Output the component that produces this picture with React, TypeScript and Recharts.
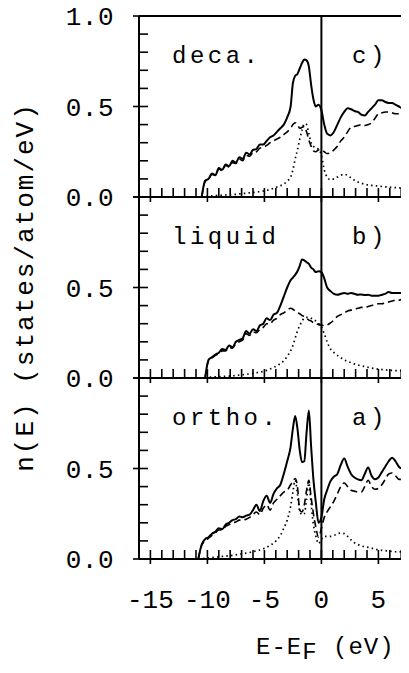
import { LineChart, Line, XAxis, YAxis, ReferenceLine } from 'recharts'

// energy grid (eV relative to E_F), shared by all three panels
const energies = [
  -10.8, -10.5, -10.2, -9.9, -9.6, -9.3, -9.0, -8.7, -8.4, -8.1,
  -7.8, -7.5, -7.2, -6.9, -6.6, -6.3, -6.0, -5.7, -5.4, -5.1,
  -4.8, -4.5, -4.2, -3.9, -3.6, -3.3, -3.0, -2.7, -2.5, -2.3,
  -2.1, -1.9, -1.7, -1.5, -1.3, -1.1, -0.9, -0.7, -0.5, -0.25,
  0, 0.25, 0.5, 0.8, 1.1, 1.4, 1.7, 2.0, 2.3, 2.6,
  2.9, 3.2, 3.5, 3.8, 4.1, 4.4, 4.7, 5.0, 5.3, 5.6,
  5.9, 6.2, 6.5, 6.8, 7.1, 7.4, 7.7, 8.0,
]

// c) decagonal
const decaTotal = [
  null, 0, 0.09, 0.10, 0.13, 0.12, 0.16, 0.15, 0.18, 0.17,
  0.20, 0.19, 0.22, 0.21, 0.245, 0.235, 0.26, 0.265, 0.29, 0.29,
  0.31, 0.33, 0.34, 0.36, 0.38, 0.40, 0.44, 0.50, 0.63, 0.67,
  0.68, 0.71, 0.74, 0.76, 0.755, 0.72, 0.62, 0.54, 0.50, 0.51,
  0.48, 0.40, 0.35, 0.34, 0.36, 0.40, 0.44, 0.47, 0.49, 0.485,
  0.475, 0.47, 0.455, 0.45, 0.47, 0.49, 0.51, 0.535, 0.535, 0.525,
  0.52, 0.52, 0.51, 0.50, 0.49, 0.50, 0.51, 0.52,
]
const decaDashed = [
  null, 0, 0.085, 0.10, 0.125, 0.12, 0.155, 0.145, 0.175, 0.165,
  0.19, 0.185, 0.21, 0.20, 0.23, 0.225, 0.245, 0.25, 0.27, 0.275,
  0.285, 0.30, 0.31, 0.32, 0.33, 0.345, 0.36, 0.38, 0.40, 0.41,
  0.40, 0.38, 0.385, 0.39, 0.36, 0.315, 0.28, 0.255, 0.25, 0.26,
  0.26, 0.25, 0.24, 0.245, 0.26, 0.28, 0.31, 0.33, 0.36, 0.385,
  0.39, 0.395, 0.40, 0.395, 0.40, 0.41, 0.435, 0.46, 0.465, 0.47,
  0.47, 0.465, 0.46, 0.46, 0.46, 0.47, 0.475, 0.48,
]
const decaDotted = [
  null, 0, 0.003, 0.005, 0.006, 0.008, 0.009, 0.010, 0.011, 0.012,
  0.014, 0.015, 0.017, 0.019, 0.021, 0.023, 0.025, 0.027, 0.030, 0.033,
  0.037, 0.042, 0.048, 0.055, 0.062, 0.072, 0.088, 0.11, 0.15, 0.21,
  0.26, 0.32, 0.37, 0.405, 0.40, 0.35, 0.30, 0.28, 0.27, 0.265,
  0.23, 0.15, 0.11, 0.095, 0.10, 0.11, 0.12, 0.125, 0.12, 0.105,
  0.092, 0.083, 0.076, 0.071, 0.067, 0.064, 0.062, 0.060, 0.058, 0.056,
  0.055, 0.053, 0.052, 0.051, 0.05, 0.05, 0.05, 0.05,
]

// b) liquid
const liquidTotal = [
  null, null, 0, 0.10, 0.115, 0.13, 0.14, 0.16, 0.155, 0.18,
  0.17, 0.20, 0.21, 0.22, 0.26, 0.245, 0.27, 0.26, 0.29, 0.30,
  0.33, 0.32, 0.35, 0.36, 0.40, 0.45, 0.50, 0.54, 0.555, 0.57,
  0.59, 0.62, 0.655, 0.65, 0.64, 0.63, 0.61, 0.60, 0.585, 0.59,
  0.585, 0.55, 0.50, 0.48, 0.465, 0.46, 0.465, 0.47, 0.465, 0.47,
  0.465, 0.46, 0.462, 0.458, 0.46, 0.455, 0.455, 0.455, 0.46, 0.465,
  0.475, 0.47, 0.47, 0.47, 0.47, 0.47, 0.465, 0.465,
]
const liquidDashed = [
  null, null, 0, 0.095, 0.11, 0.125, 0.135, 0.15, 0.15, 0.17,
  0.165, 0.19, 0.20, 0.21, 0.245, 0.235, 0.255, 0.25, 0.27, 0.28,
  0.30, 0.30, 0.32, 0.33, 0.35, 0.36, 0.375, 0.385, 0.38, 0.37,
  0.36, 0.355, 0.345, 0.34, 0.33, 0.32, 0.315, 0.305, 0.30, 0.295,
  0.293, 0.29, 0.293, 0.305, 0.32, 0.34, 0.35, 0.36, 0.37, 0.375,
  0.38, 0.385, 0.39, 0.39, 0.395, 0.40, 0.405, 0.41, 0.41, 0.415,
  0.42, 0.425, 0.43, 0.43, 0.435, 0.435, 0.44, 0.44,
]
const liquidDotted = [
  null, null, 0, 0.004, 0.005, 0.006, 0.007, 0.008, 0.009, 0.010,
  0.012, 0.014, 0.016, 0.018, 0.020, 0.023, 0.026, 0.029, 0.033, 0.036,
  0.042, 0.050, 0.058, 0.068, 0.08, 0.095, 0.12, 0.15, 0.18, 0.22,
  0.26, 0.29, 0.315, 0.33, 0.335, 0.335, 0.33, 0.325, 0.315, 0.30,
  0.283, 0.245, 0.20, 0.16, 0.14, 0.125, 0.112, 0.10, 0.092, 0.085,
  0.078, 0.072, 0.067, 0.063, 0.059, 0.055, 0.052, 0.049, 0.047, 0.045,
  0.043, 0.042, 0.041, 0.04, 0.04, 0.039, 0.038, 0.038,
]

// a) orthorhombic
const orthoTotal = [
  0, 0.08, 0.11, 0.12, 0.14, 0.15, 0.17, 0.165, 0.19, 0.20,
  0.215, 0.22, 0.235, 0.23, 0.24, 0.245, 0.27, 0.30, 0.265, 0.32,
  0.35, 0.31, 0.36, 0.39, 0.41, 0.47, 0.54, 0.62, 0.72, 0.79,
  0.72, 0.60, 0.535, 0.54, 0.70, 0.82, 0.62, 0.44, 0.32, 0.20,
  0.23, 0.33, 0.38, 0.43, 0.455, 0.47, 0.52, 0.555, 0.51, 0.47,
  0.45, 0.44, 0.435, 0.47, 0.505, 0.46, 0.44, 0.45, 0.48, 0.51,
  0.54, 0.56, 0.54, 0.51, 0.50, 0.52, 0.54, 0.55,
]
const orthoDashed = [
  0, 0.075, 0.10, 0.115, 0.13, 0.145, 0.16, 0.16, 0.18, 0.19,
  0.20, 0.205, 0.215, 0.215, 0.22, 0.23, 0.245, 0.26, 0.245, 0.28,
  0.30, 0.27, 0.31, 0.33, 0.35, 0.37, 0.38, 0.41, 0.43, 0.445,
  0.40, 0.27, 0.26, 0.30, 0.38, 0.435, 0.34, 0.25, 0.18, 0.12,
  0.17, 0.23, 0.26, 0.29, 0.32, 0.36, 0.40, 0.42, 0.40, 0.38,
  0.375, 0.37, 0.37, 0.40, 0.435, 0.40, 0.385, 0.39, 0.41, 0.44,
  0.47, 0.475, 0.46, 0.44, 0.44, 0.45, 0.46, 0.47,
]
const orthoDotted = [
  0, 0.002, 0.004, 0.006, 0.008, 0.01, 0.012, 0.014, 0.016, 0.018,
  0.02, 0.023, 0.026, 0.029, 0.032, 0.036, 0.04, 0.045, 0.05, 0.056,
  0.065, 0.075, 0.088, 0.105, 0.13, 0.17, 0.215, 0.29, 0.37, 0.435,
  0.36, 0.265, 0.245, 0.25, 0.33, 0.42, 0.30, 0.19, 0.13, 0.085,
  0.11, 0.125, 0.125, 0.125, 0.13, 0.14, 0.143, 0.14, 0.125, 0.105,
  0.09, 0.08, 0.072, 0.068, 0.064, 0.06, 0.055, 0.05, 0.048, 0.046,
  0.044, 0.042, 0.04, 0.04, 0.039, 0.038, 0.037, 0.036,
]

const xTicks = [-15, -14, -13, -12, -11, -10, -9, -8, -7, -6, -5, -4, -3, -2, -1, 0, 1, 2, 3, 4, 5, 6, 7]
const xLabels = [-15, -10, -5, 0, 5]
const yTicks = [0, 0.1, 0.2, 0.3, 0.4, 0.5, 0.6, 0.7, 0.8, 0.9, 1.0]
const topYLabels = [0, 0.5, 1.0]
const lowerYLabels = [0, 0.5]

const FONT = '"Liberation Mono", "DejaVu Sans Mono", monospace'
const PANEL_H = 181
const CHART_W = 420
const MARGIN = { top: 18, right: 15.4, bottom: 30, left: 71 }

const toRows = (total: (number | null)[], dashed: (number | null)[], dotted: (number | null)[]) =>
  energies.map((e, i) => ({ e, total: total[i], dashed: dashed[i], dotted: dotted[i] }))

const panels = [
  { name: 'deca.', tag: 'c)', rows: toRows(decaTotal, decaDashed, decaDotted), yLabels: topYLabels, top: true, bottom: false },
  { name: 'liquid', tag: 'b)', rows: toRows(liquidTotal, liquidDashed, liquidDotted), yLabels: lowerYLabels, top: false, bottom: false },
  { name: 'ortho.', tag: 'a)', rows: toRows(orthoTotal, orthoDashed, orthoDotted), yLabels: lowerYLabels, top: false, bottom: true },
]

function XTick({ x, y, payload, showLabels }: any) {
  const v = payload.value
  const major = v % 5 === 0
  return (
    <g>
      <line x1={x} x2={x} y1={y - 9} y2={major ? y + 5 : y} stroke="#000" strokeWidth={1.6} />
      {showLabels && xLabels.includes(v) && (
        <text x={x} y={y + 49} textAnchor="middle" fontFamily={FONT} fontSize={26} fill="#000">
          {v}
        </text>
      )}
    </g>
  )
}

function YTick({ x, y, payload, labels }: any) {
  const v = payload.value
  const major = Math.abs(v * 2 - Math.round(v * 2)) < 1e-6
  const labelled = labels.some((l: number) => Math.abs(l - v) < 1e-6)
  return (
    <g>
      <line x1={major ? x - 6 : x} x2={x + 9} y1={y} y2={y} stroke="#000" strokeWidth={1.6} />
      {labelled && (
        <text x={x - 25} y={y + 9} textAnchor="end" fontFamily={FONT} fontSize={26} letterSpacing={0.5} fill="#000">
          {v.toFixed(1)}
        </text>
      )}
    </g>
  )
}

function Panel({ panel }: { panel: (typeof panels)[number] }) {
  return (
    <LineChart width={CHART_W} height={PANEL_H + 78} data={panel.rows} margin={MARGIN}>
      <XAxis
        dataKey="e"
        type="number"
        domain={[-16, 8]}
        allowDataOverflow
        ticks={xTicks}
        interval={0}
        tickSize={0}
        tickMargin={0}
        tickLine={false}
        axisLine={{ stroke: '#000', strokeWidth: 2 }}
        tick={(p: any) => <XTick {...p} showLabels={panel.bottom} />}
      />
      <YAxis
        type="number"
        domain={[0, 1]}
        allowDataOverflow
        width={60}
        ticks={yTicks}
        interval={0}
        tickSize={0}
        tickMargin={0}
        tickLine={false}
        axisLine={{ stroke: '#000', strokeWidth: 2 }}
        tick={(p: any) => <YTick {...p} labels={panel.yLabels} />}
      />
      {panel.top && <ReferenceLine y={1} stroke="#000" strokeWidth={2} />}
      <ReferenceLine x={0} stroke="#000" strokeWidth={2} />
      <Line dataKey="dotted" type="monotone" stroke="#000" strokeWidth={1.7} strokeDasharray="1.5 3.2" dot={false} activeDot={false} isAnimationActive={false} />
      <Line dataKey="dashed" type="monotone" stroke="#000" strokeWidth={1.6} strokeDasharray="7 4" dot={false} activeDot={false} isAnimationActive={false} />
      <Line dataKey="total" type="monotone" stroke="#000" strokeWidth={2} dot={false} activeDot={false} isAnimationActive={false} />
    </LineChart>
  )
}

const labelStyle = { fontFamily: FONT, fontSize: 24, letterSpacing: 3.5, fill: '#000' }

export default function App() {
  return (
    <div style={{ position: 'relative', width: 401, height: 657, background: '#fff' }}>
      <style>{'html, body { overflow: hidden; background: #fff; }'}</style>
      {panels.map((panel, i) => (
        <div key={panel.tag} style={{ position: 'absolute', left: 0, top: i * PANEL_H - 10 }}>
          <Panel panel={panel} />
        </div>
      ))}
      <svg width={401} height={657} style={{ position: 'absolute', left: 0, top: 0, overflow: 'visible', pointerEvents: 'none' }}>
        {panels.map((panel, i) => (
          <g key={panel.tag}>
            <text x={164} y={55 + i * PANEL_H} {...labelStyle}>{panel.name}</text>
            <text x={344} y={55 + i * PANEL_H} {...labelStyle}>{panel.tag}</text>
          </g>
        ))}
        <text transform="translate(25,279) rotate(-90)" textAnchor="middle" fontFamily={FONT} fontSize={26} letterSpacing={2} fill="#000">
          n(E) (states/atom/eV)
        </text>
        <text x={248} y={646} fontFamily={FONT} fontSize={24} letterSpacing={1} fill="#000">
          E-E<tspan dy={5}>F</tspan><tspan dy={-5}> (eV)</tspan>
        </text>
      </svg>
    </div>
  )
}
